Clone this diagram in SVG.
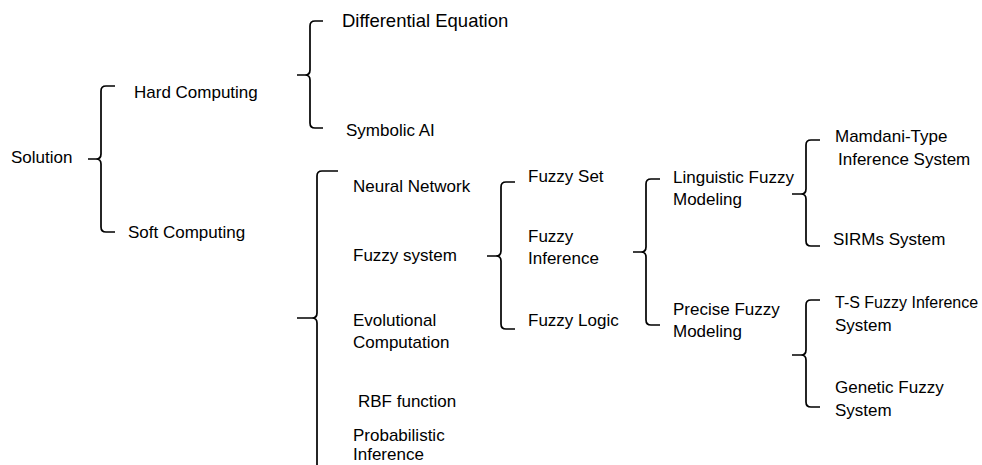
<svg xmlns="http://www.w3.org/2000/svg" width="982" height="465" viewBox="0 0 982 465">
  <style>
    .brace { fill: none; stroke: #000; stroke-width: 1.7; stroke-linecap: butt; stroke-linejoin: round; }
    text { font-family: "Liberation Sans", Arial, sans-serif; font-size: 17px; fill: #000; }
  </style>
  <rect width="982" height="465" fill="#fff"/>

  <!-- curly braces linking each parent to its children -->
  <g id="connectors">
    <!-- Solution -->
    <path class="brace" d="M115,86 H106 Q101,86 101,91 V154 Q101,159 96,159 H88 M96,159 Q101,159 101,164 V227 Q101,232 106,232 H115"/>
    <!-- Hard Computing -->
    <path class="brace" d="M323,21 H315 Q310,21 310,26 V70 Q310,75 305,75 H297 M305,75 Q310,75 310,80 V123 Q310,128 315,128 H323"/>
    <!-- Soft Computing -->
    <path class="brace" d="M338,171 H322 Q317,171 317,176 V313 Q317,318 312,318 H297 M312,318 Q317,318 317,323 V470"/>
    <!-- Fuzzy system -->
    <path class="brace" d="M515,182 H506 Q501,182 501,187 V251 Q501,256 496,256 H487 M496,256 Q501,256 501,261 V324 Q501,329 506,329 H515"/>
    <!-- Fuzzy Inference -->
    <path class="brace" d="M660,179 H651 Q646,179 646,184 V247 Q646,252 641,252 H633 M641,252 Q646,252 646,257 V320 Q646,325 651,325 H660"/>
    <!-- Linguistic Fuzzy Modeling -->
    <path class="brace" d="M820,140 H811 Q806,140 806,145 V189 Q806,194 801,194 H792 M801,194 Q806,194 806,199 V241 Q806,246 811,246 H820"/>
    <!-- Precise Fuzzy Modeling -->
    <path class="brace" d="M820,300 H811 Q806,300 806,305 V350 Q806,355 801,355 H792 M801,355 Q806,355 806,360 V402 Q806,407 811,407 H820"/>
  </g>

  <g id="solution"><text x="11" y="163">Solution</text></g>
  <g id="hard-computing"><text x="134" y="98">Hard Computing</text></g>
  <g id="soft-computing"><text x="128" y="238">Soft Computing</text></g>

  <g id="differential-equation"><text x="342" y="27" style="font-size:18.5px">Differential Equation</text></g>
  <g id="symbolic-ai"><text x="346" y="136">Symbolic AI</text></g>

  <g id="neural-network"><text x="353" y="192">Neural Network</text></g>
  <g id="fuzzy-system"><text x="353" y="261">Fuzzy system</text></g>
  <g id="evolutional-computation"><text x="353" y="326">Evolutional</text><text x="353" y="348">Computation</text></g>
  <g id="rbf-function"><text x="358" y="407">RBF function</text></g>
  <g id="probabilistic-inference"><text x="353" y="441">Probabilistic</text><text x="353" y="460">Inference</text></g>

  <g id="fuzzy-set"><text x="528" y="182">Fuzzy Set</text></g>
  <g id="fuzzy-inference"><text x="528" y="242">Fuzzy</text><text x="528" y="264">Inference</text></g>
  <g id="fuzzy-logic"><text x="528" y="326">Fuzzy Logic</text></g>

  <g id="linguistic-fuzzy-modeling"><text x="673" y="183">Linguistic Fuzzy</text><text x="673" y="205">Modeling</text></g>
  <g id="precise-fuzzy-modeling"><text x="673" y="315">Precise Fuzzy</text><text x="673" y="337">Modeling</text></g>

  <g id="mamdani-type"><text x="835" y="142">Mamdani-Type</text><text x="838" y="165">Inference System</text></g>
  <g id="sirms-system"><text x="833" y="245">SIRMs System</text></g>
  <g id="ts-fuzzy-inference"><text x="835" y="308" style="font-size:16px">T-S Fuzzy Inference</text><text x="835" y="331">System</text></g>
  <g id="genetic-fuzzy-system"><text x="835" y="393">Genetic Fuzzy</text><text x="835" y="416">System</text></g>
</svg>
